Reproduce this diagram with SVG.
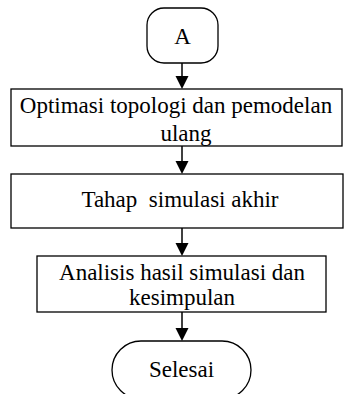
<svg xmlns="http://www.w3.org/2000/svg" width="345" height="394" viewBox="0 0 345 394">
<style>
.box{fill:#fff;stroke:#000;stroke-width:1.3}
.t{font-family:"Liberation Serif","Times New Roman",serif;font-size:23px;fill:#000;text-anchor:middle}
.ln{stroke:#000;stroke-width:1.5;fill:none}
.ah{fill:#000}
</style>
<g id="connectors">
<line class="ln" x1="182" y1="63" x2="182" y2="76"/>
<path class="ah" d="M175.5,76 L188.5,76 L182,89 Z"/>
<line class="ln" x1="182" y1="146" x2="182" y2="161"/>
<path class="ah" d="M175.5,161 L188.5,161 L182,174 Z"/>
<line class="ln" x1="182" y1="228" x2="182" y2="243"/>
<path class="ah" d="M175.5,243 L188.5,243 L182,256 Z"/>
<line class="ln" x1="182" y1="312" x2="182" y2="328"/>
<path class="ah" d="M175.5,328 L188.5,328 L182,341 Z"/>
</g>
<g id="nodeA">
<rect class="box" x="147" y="8" width="71" height="55" rx="17" ry="17"/>
<text class="t" x="182.5" y="44">A</text>
</g>
<g id="node1">
<rect class="box" x="11" y="89" width="331" height="57"/>
<text class="t" x="176" y="113">Optimasi topologi dan pemodelan</text>
<text class="t" x="186" y="141">ulang</text>
</g>
<g id="node2">
<rect class="box" x="11" y="174" width="332" height="54"/>
<text class="t" x="180" y="207" xml:space="preserve">Tahap  simulasi akhir</text>
</g>
<g id="node3">
<rect class="box" x="37" y="256" width="289" height="56"/>
<text class="t" x="182" y="280">Analisis hasil simulasi dan</text>
<text class="t" x="182" y="305">kesimpulan</text>
</g>
<g id="nodeEnd">
<rect class="box" x="112" y="341" width="139" height="58" rx="29" ry="29"/>
<text class="t" x="181.5" y="377">Selesai</text>
</g>
</svg>
